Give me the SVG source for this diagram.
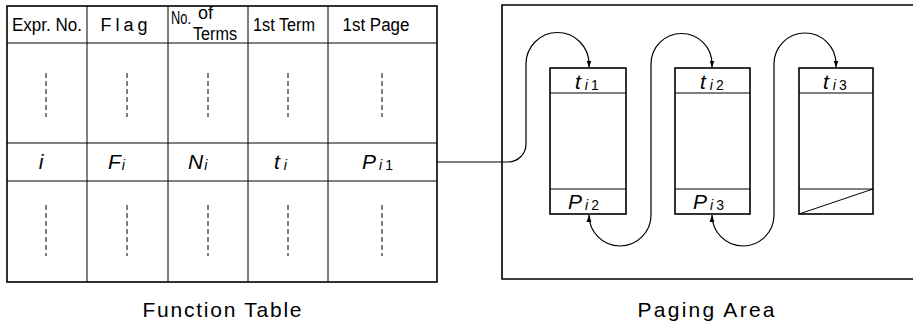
<svg xmlns="http://www.w3.org/2000/svg" width="913" height="322" viewBox="0 0 913 322">
<defs>
<marker id="arr" viewBox="0 0 10 10" refX="10" refY="5" markerWidth="7" markerHeight="7" orient="auto-start-reverse" markerUnits="userSpaceOnUse">
<path d="M0,1.5 L10,5 L0,8.5 Z" fill="#000"/>
</marker>
</defs>
<style>
.frame{fill:none;stroke:#000;stroke-width:1.6}
.thin{fill:none;stroke:#000;stroke-width:1}
.dash{fill:none;stroke:#000;stroke-width:1;stroke-dasharray:5,3}
.hdr{font-family:"Liberation Sans",Arial,sans-serif;font-size:18px;fill:#000}
.var{font-family:"Liberation Sans",Arial,sans-serif;font-style:italic;font-size:21px;fill:#000}
.sub{font-size:14px}
.cap{font-family:"Liberation Sans",Arial,sans-serif;font-size:21px;fill:#000}
.conn{fill:none;stroke:#000;stroke-width:1.2}
</style>

<g id="function-table">
<rect class="frame" x="7" y="6" width="430" height="276"/>
<line class="thin" x1="7" y1="43" x2="437" y2="43"/>
<line class="thin" x1="7" y1="143" x2="437" y2="143"/>
<line class="thin" x1="7" y1="181" x2="437" y2="181"/>
<line class="thin" x1="87" y1="6" x2="87" y2="282"/>
<line class="thin" x1="168" y1="6" x2="168" y2="282"/>
<line class="thin" x1="248" y1="6" x2="248" y2="282"/>
<line class="thin" x1="328" y1="6" x2="328" y2="282"/>
<text class="hdr" x="47" y="31" text-anchor="middle" textLength="70" lengthAdjust="spacingAndGlyphs">Expr. No.</text>
<text class="hdr" x="124" y="31" text-anchor="middle" font-size="20" textLength="47" lengthAdjust="spacing">Flag</text>
<text class="hdr" x="171" y="24" font-size="17" textLength="20" lengthAdjust="spacingAndGlyphs">No.</text>
<text class="hdr" x="198" y="19" font-size="15" textLength="15" lengthAdjust="spacingAndGlyphs">of</text>
<text class="hdr" x="193" y="40" font-size="15" textLength="44" lengthAdjust="spacingAndGlyphs">Terms</text>
<text class="hdr" x="284" y="31" text-anchor="middle" textLength="62" lengthAdjust="spacingAndGlyphs">1st Term</text>
<text class="hdr" x="376" y="31" text-anchor="middle" textLength="67" lengthAdjust="spacingAndGlyphs">1st Page</text>
<line class="dash" x1="46" y1="73" x2="46" y2="117"/>
<line class="dash" x1="127" y1="73" x2="127" y2="117"/>
<line class="dash" x1="208" y1="73" x2="208" y2="117"/>
<line class="dash" x1="288" y1="73" x2="288" y2="117"/>
<line class="dash" x1="382" y1="73" x2="382" y2="117"/>
<line class="dash" x1="46" y1="205" x2="46" y2="256"/>
<line class="dash" x1="127" y1="205" x2="127" y2="256"/>
<line class="dash" x1="208" y1="205" x2="208" y2="256"/>
<line class="dash" x1="288" y1="205" x2="288" y2="256"/>
<line class="dash" x1="382" y1="205" x2="382" y2="256"/>
<text class="var" x="41" y="169" text-anchor="middle">i</text>
<text class="var" x="108" y="169">F<tspan class="sub" dx="1" dy="1">i</tspan></text>
<text class="var" x="188" y="169">N<tspan class="sub" dx="1" dy="1">i</tspan></text>
<text class="var" x="274" y="169">t<tspan class="sub" dx="4" dy="1">i</tspan></text>
<text class="var" x="362" y="169">P<tspan class="sub" dx="3" dy="1">i</tspan><tspan class="sub" dx="3" font-style="normal">1</tspan></text>
</g>

<g id="paging-area">
<path class="frame" d="M915,5 H502 V279 H915"/>
</g>

<g id="page-1">
<rect class="frame" x="550" y="68" width="76" height="146"/>
<line class="thin" x1="550" y1="93" x2="626" y2="93"/>
<line class="thin" x1="550" y1="189" x2="626" y2="189"/>
<text class="var" x="575" y="89">t<tspan class="sub" dx="4" dy="1">i</tspan><tspan class="sub" dx="3" font-style="normal">1</tspan></text>
<text class="var" x="568" y="209">P<tspan class="sub" dx="3" dy="1">i</tspan><tspan class="sub" dx="3" font-style="normal">2</tspan></text>
</g>

<g id="page-2">
<rect class="frame" x="675" y="68" width="75" height="146"/>
<line class="thin" x1="675" y1="93" x2="750" y2="93"/>
<line class="thin" x1="675" y1="189" x2="750" y2="189"/>
<text class="var" x="700" y="89">t<tspan class="sub" dx="4" dy="1">i</tspan><tspan class="sub" dx="3" font-style="normal">2</tspan></text>
<text class="var" x="693" y="209">P<tspan class="sub" dx="3" dy="1">i</tspan><tspan class="sub" dx="3" font-style="normal">3</tspan></text>
</g>

<g id="page-3">
<rect class="frame" x="799" y="68" width="74" height="146"/>
<line class="thin" x1="799" y1="93" x2="873" y2="93"/>
<line class="thin" x1="799" y1="189" x2="873" y2="189"/>
<line class="thin" x1="799" y1="214" x2="873" y2="189"/>
<text class="var" x="823" y="89">t<tspan class="sub" dx="4" dy="1">i</tspan><tspan class="sub" dx="3" font-style="normal">3</tspan></text>
</g>

<g id="connectors">
<path class="conn" d="M437,162 H508 A18,18 0 0 0 526,144 V64 A31.5,31.5 0 0 1 589,64 V67.5" marker-end="url(#arr)"/>
<path class="conn" d="M589,215 A31,31 0 0 0 651,215 V64 A30.5,30.5 0 0 1 712,64 V67.5" marker-start="url(#arr)" marker-end="url(#arr)"/>
<path class="conn" d="M712,215 A31,31 0 0 0 774,215 V64 A31,31 0 0 1 836,64 V67.5" marker-start="url(#arr)" marker-end="url(#arr)"/>
</g>

<text class="cap" x="222" y="317" text-anchor="middle" textLength="159" lengthAdjust="spacing">Function Table</text>
<text class="cap" x="706" y="317" text-anchor="middle" textLength="137" lengthAdjust="spacing">Paging Area</text>
</svg>
